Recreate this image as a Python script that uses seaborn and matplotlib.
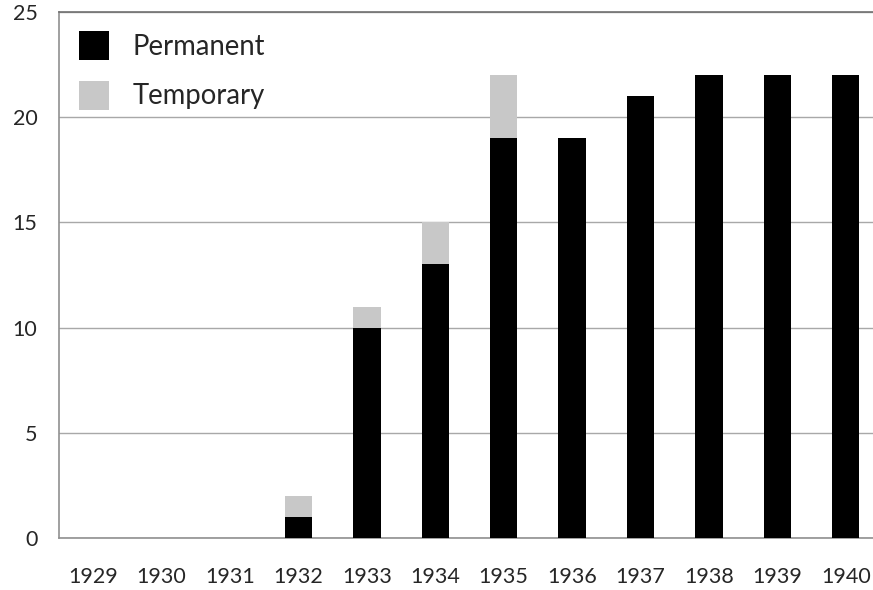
import numpy as np
import pandas as pd
import matplotlib
matplotlib.use("Agg")
import matplotlib.pyplot as plt
import seaborn as sns
from matplotlib.patches import Patch

years = ["1929", "1930", "1931", "1932", "1933", "1934",
         "1935", "1936", "1937", "1938", "1939", "1940"]
permanent = [0, 0, 0, 1, 10, 13, 19, 19, 21, 22, 22, 22]
temporary = [0, 0, 0, 1, 1, 2, 3, 0, 0, 0, 0, 0]

df = pd.DataFrame({"year": years, "permanent": permanent, "temporary": temporary})
df["total"] = df["permanent"] + df["temporary"]

sns.set_style("white")
plt.rcParams["font.family"] = ["Lato", "DejaVu Sans"]

fig = plt.figure(figsize=(8.73, 5.9), dpi=100)
ax = fig.add_axes([59 / 873, 52 / 590, 821 / 873, 526 / 590])

# gray = total, black on top = permanent
sns.barplot(data=df, x="year", y="total", color="#c8c8c8", width=0.4,
            saturation=1, ax=ax, edgecolor="none", zorder=3)
sns.barplot(data=df, x="year", y="permanent", color="black", width=0.4,
            saturation=1, ax=ax, edgecolor="none", zorder=4)

ax.set_xlim(-0.5, 11.5)
ax.set_ylim(0, 25)
ax.set_yticks([0, 5, 10, 15, 20, 25])
ax.yaxis.grid(True, color="#a8a8a8", lw=1, zorder=0)
ax.set_axisbelow(True)
ax.set_xlabel("")
ax.set_ylabel("")

ax.spines["right"].set_visible(False)
ax.spines["top"].set_color("#707070")
ax.spines["left"].set_color("#909090")
ax.spines["bottom"].set_color("#909090")
for s in ["top", "left", "bottom"]:
    ax.spines[s].set_linewidth(1.2)

ax.tick_params(axis="y", length=0, pad=15.5, labelsize=15.5)
ax.tick_params(axis="x", length=0, pad=21, labelsize=15.5)

handles = [Patch(facecolor="black", edgecolor="none"),
           Patch(facecolor="#c8c8c8", edgecolor="none")]
fig.legend(handles, ["Permanent", "Temporary"], loc="upper left",
           bbox_to_anchor=(79 / 873, 559 / 590), frameon=False,
           fontsize=19.8, handlelength=1.09, handleheight=1.25,
           handletextpad=0.87, labelspacing=0.75, borderpad=0,
           borderaxespad=0)

fig.savefig("out.png", dpi=100)
